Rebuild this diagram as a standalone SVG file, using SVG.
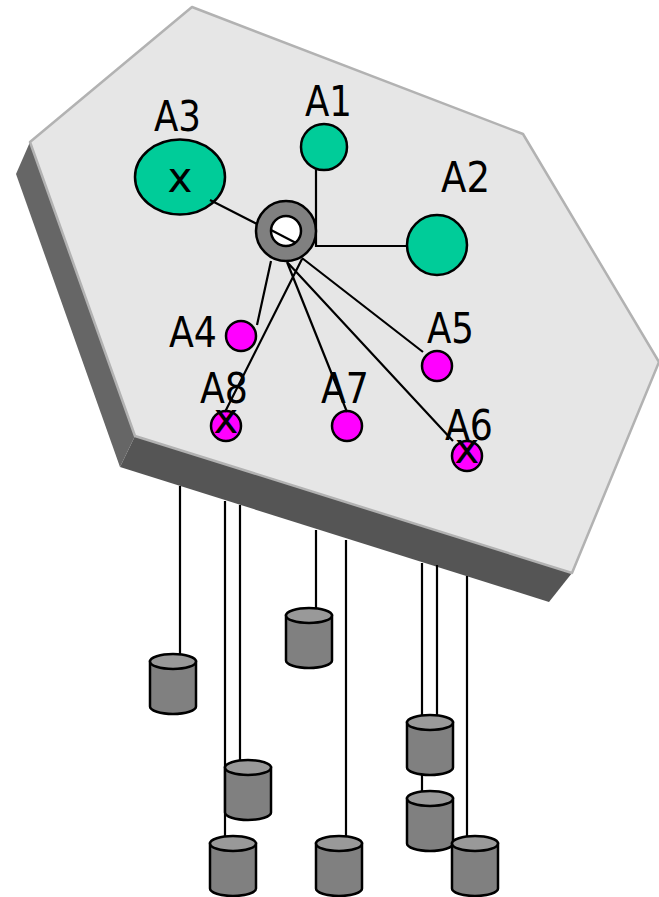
<svg xmlns="http://www.w3.org/2000/svg" width="659" height="897" viewBox="0 0 659 897">
<style>
.w{stroke:#000;stroke-width:2.200;fill:none}
.g{fill:#00cc99;stroke:#000;stroke-width:2.500}
.m{fill:#ff00ff;stroke:#000;stroke-width:2.500}
.c{fill:#808080;stroke:#000;stroke-width:2.500}
.t{fill:#999999;stroke:#000;stroke-width:2.500}
text{font-family:"DejaVu Sans",sans-serif;font-size:42px;fill:#000}
</style>
<defs>
<g id="cyl">
<path class="c" d="M0 7.5V52.5C0 56.6 10.300 60 23 60S46 56.600 46 52.500V7.500Z"/>
<ellipse class="t" cx="23" cy="7.500" rx="23" ry="7.500"/>
</g>
</defs>
<rect width="659" height="897" fill="#fff"/>
<g id="plate">
<polygon points="30,142 16,174 120,467 135,436" fill="#666666"/>
<polygon points="135,436 120,467 549,602 572,573" fill="#555555"/>
<polygon points="192,7 523,134 659,362 572,573 135,436 30,142" fill="#e6e6e6" stroke="#b2b2b2" stroke-width="2.500" stroke-linejoin="round"/>
</g>
<g id="A1"><circle class="g" cx="324" cy="147" r="23"/><text x="305" y="116" textLength="47" lengthAdjust="spacingAndGlyphs">A1</text></g>
<g id="A2"><circle class="g" cx="437" cy="245" r="30"/><text x="441" y="192" textLength="49" lengthAdjust="spacingAndGlyphs">A2</text></g>
<g id="A3"><ellipse class="g" cx="180" cy="177" rx="45" ry="37.500"/><text x="154" y="131" textLength="47" lengthAdjust="spacingAndGlyphs">A3</text><text x="180" y="192" text-anchor="middle">x</text></g>
<g id="A4"><circle class="m" cx="241" cy="336" r="15"/><text x="169" y="347" textLength="48" lengthAdjust="spacingAndGlyphs">A4</text></g>
<g id="A5"><circle class="m" cx="437" cy="366" r="15"/><text x="427" y="343" textLength="47" lengthAdjust="spacingAndGlyphs">A5</text></g>
<g id="A6"><circle class="m" cx="467" cy="456" r="15"/><text x="445" y="440" textLength="48" lengthAdjust="spacingAndGlyphs">A6</text><text x="467" y="463" text-anchor="middle">x</text></g>
<g id="A7"><circle class="m" cx="347" cy="426" r="15"/><text x="321" y="403" textLength="48" lengthAdjust="spacingAndGlyphs">A7</text></g>
<g id="A8"><circle class="m" cx="226" cy="426" r="15"/><text x="200" y="403" textLength="48" lengthAdjust="spacingAndGlyphs">A8</text><text x="226" y="433" text-anchor="middle">x</text></g>
<g id="connectors">
<path class="w" d="M180 486V654M225 501V836M240 505V760M316 530V608M346 540V836M422 563V791M437 565V715M467 576V836"/>
<path class="w" d="M316 170V246H407M210 200L257 224M271 261L257 325M302 259L225 412M287 262L347 412M287 262L453 441M302 258L423 352"/>
</g>
<g id="hub">
<circle cx="286" cy="231" r="30" fill="#808080" stroke="#000" stroke-width="2.500"/>
<circle cx="286" cy="231" r="15" fill="#fff" stroke="#000" stroke-width="2.500"/>
<path class="w" d="M271 230L296 243"/>
</g>
<use id="disk1" href="#cyl" x="150" y="654"/>
<use id="disk2" href="#cyl" x="286" y="608"/>
<use id="disk3" href="#cyl" x="225" y="760"/>
<use id="disk4" href="#cyl" x="210" y="836"/>
<use id="disk5" href="#cyl" x="316" y="836"/>
<use id="disk6" href="#cyl" x="407" y="715"/>
<use id="disk7" href="#cyl" x="407" y="791"/>
<use id="disk8" href="#cyl" x="452" y="836"/>
</svg>
